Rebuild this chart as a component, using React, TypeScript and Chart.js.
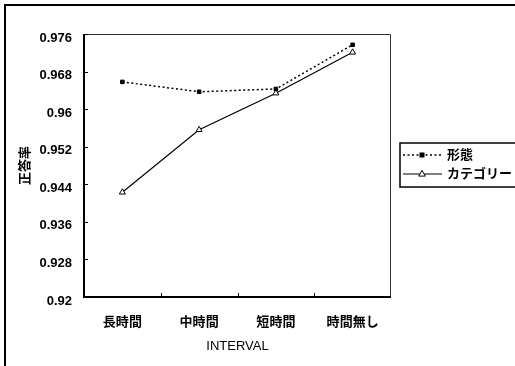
import React, { useEffect, useRef } from "react";
import { Chart, registerables } from "chart.js";

Chart.register(...registerables);

// Categories (x axis) and the two measured series
const categories = ["長時間", "中時間", "短時間", "時間無し"];
const seriesNames = ["形態", "カテゴリー"];
const formValues = [0.9658, 0.9637, 0.9643, 0.9737];
const categoryValues = [0.9423, 0.9556, 0.9634, 0.9721];

// Y axis tick values
const yTicks = [0.92, 0.928, 0.936, 0.944, 0.952, 0.96, 0.968, 0.976];

const xTitle = "INTERVAL";
const yTitle = "正答率";

const FONT = '"Liberation Sans", "Noto Sans CJK JP", sans-serif';

// Outer frame, plot box, inner tick marks and the boxed legend
const framePlugin = {
  id: "frameAndLegend",
  beforeDraw(chart: any) {
    const ctx = chart.ctx;
    ctx.save();
    ctx.fillStyle = "#fff";
    ctx.fillRect(0, 0, chart.width, chart.height);
    ctx.strokeStyle = "#000";
    ctx.lineWidth = 2;
    ctx.beginPath();
    ctx.moveTo(5, chart.height);
    ctx.lineTo(5, 5);
    ctx.lineTo(chart.width, 5);
    ctx.stroke();
    ctx.restore();
  },
  afterDraw(chart: any) {
    const ctx = chart.ctx;
    const { left, right, top, bottom } = chart.chartArea;
    const xs = chart.scales.x;
    const ys = chart.scales.y;
    ctx.save();
    // plot box
    ctx.strokeStyle = "#333";
    ctx.lineWidth = 1;
    ctx.beginPath();
    ctx.moveTo(left, top + 0.5);
    ctx.lineTo(right - 0.5, top + 0.5);
    ctx.lineTo(right - 0.5, bottom);
    ctx.stroke();
    ctx.strokeStyle = "#000";
    ctx.lineWidth = 2;
    ctx.beginPath();
    ctx.moveTo(left, top);
    ctx.lineTo(left, bottom);
    ctx.lineTo(right, bottom);
    ctx.stroke();
    // inner tick marks
    ctx.lineWidth = 1;
    ys.ticks.forEach((t: any) => {
      const y = Math.round(ys.getPixelForValue(t.value)) + 0.5;
      ctx.beginPath();
      ctx.moveTo(left, y);
      ctx.lineTo(left + 4, y);
      ctx.stroke();
    });
    for (let i = 1; i < categories.length; i++) {
      const x =
        Math.round((xs.getPixelForValue(i - 1) + xs.getPixelForValue(i)) / 2) + 0.5;
      ctx.beginPath();
      ctx.moveTo(x, bottom);
      ctx.lineTo(x, bottom - 4);
      ctx.stroke();
    }

    // legend
    const bx = 400;
    const by = 143;
    const bh = 44;
    ctx.strokeStyle = "#000";
    ctx.lineWidth = 1.5;
    ctx.strokeRect(bx, by, chart.width - bx + 5, bh);
    const rows = [155, 174];
    chart.data.datasets.forEach((ds: any, i: number) => {
      const y = rows[i];
      ctx.save();
      ctx.strokeStyle = ds.borderColor;
      ctx.lineWidth = ds.borderWidth;
      ctx.setLineDash(ds.borderDash || []);
      ctx.beginPath();
      ctx.moveTo(bx + 3, y);
      ctx.lineTo(bx + 42, y);
      ctx.stroke();
      ctx.restore();
      ctx.save();
      ctx.fillStyle = ds.pointBackgroundColor;
      ctx.strokeStyle = ds.pointBorderColor;
      ctx.lineWidth = 1;
      const cx = bx + 22;
      if (ds.pointStyle === "rect") {
        ctx.fillRect(cx - 2.5, y - 2.5, 5, 5);
      } else {
        const r = ds.pointRadius;
        ctx.beginPath();
        ctx.moveTo(cx, y - r);
        ctx.lineTo(cx + r * 0.95, y + r * 0.6);
        ctx.lineTo(cx - r * 0.95, y + r * 0.6);
        ctx.closePath();
        ctx.fill();
        ctx.stroke();
      }
      ctx.restore();
      ctx.fillStyle = "#000";
      ctx.font = `bold 13px ${FONT}`;
      ctx.textBaseline = "middle";
      ctx.textAlign = "left";
      ctx.fillText(ds.label, bx + 47, y);
    });
    ctx.restore();
  },
};

export default function App() {
  const ref = useRef<HTMLCanvasElement | null>(null);

  useEffect(() => {
    if (!ref.current) return;
    const chart = new Chart(ref.current, {
      type: "line",
      data: {
        labels: categories,
        datasets: [
          {
            label: seriesNames[0],
            data: formValues,
            borderColor: "#000",
            borderWidth: 1.5,
            borderDash: [2, 2.5],
            pointStyle: "rect",
            pointRadius: 2.5,
            pointBackgroundColor: "#000",
            pointBorderColor: "#000",
            pointBorderWidth: 1,
            tension: 0,
          },
          {
            label: seriesNames[1],
            data: categoryValues,
            borderColor: "#000",
            borderWidth: 1.2,
            pointStyle: "triangle",
            pointRadius: 3.5,
            pointBackgroundColor: "#fff",
            pointBorderColor: "#000",
            pointBorderWidth: 1,
            tension: 0,
          },
        ],
      },
      options: {
        responsive: false,
        animation: false,
        devicePixelRatio: 1,
        layout: { padding: { top: 34, right: 124, left: 0, bottom: 0 } },
        plugins: {
          legend: { display: false },
          tooltip: { enabled: false },
        },
        scales: {
          x: {
            type: "category",
            offset: true,
            grid: { display: false, drawTicks: false },
            border: { display: false },
            ticks: {
              color: "#000",
              padding: 18,
              maxRotation: 0,
              font: { family: FONT, size: 13, weight: "bold" },
            },
            title: {
              display: true,
              text: xTitle,
              color: "#000",
              padding: { top: 0, bottom: 12 },
              font: { family: FONT, size: 13 },
            },
            afterFit: (s: any) => {
              s.height = 69;
            },
          },
          y: {
            min: yTicks[0],
            max: yTicks[yTicks.length - 1],
            grid: { display: false, drawTicks: false },
            border: { display: false },
            afterBuildTicks: (s: any) => {
              s.ticks = yTicks.map((v) => ({ value: v }));
            },
            ticks: {
              color: "#000",
              padding: 12,
              labelOffset: 4,
              callback: (v: any) => String(v),
              font: { family: FONT, size: 13, weight: "bold" },
            },
            title: {
              display: true,
              text: yTitle,
              color: "#000",
              padding: { top: 18, bottom: 0 },
              font: { family: FONT, size: 13, weight: "bold" },
            },
            afterFit: (s: any) => {
              s.width = 84;
            },
          },
        },
      },
      plugins: [framePlugin],
    });
    return () => chart.destroy();
  }, []);

  return (
    <div style={{ position: "fixed", left: 0, top: 0, width: 515, height: 366 }}>
      <canvas ref={ref} width={515} height={366} style={{ display: "block" }} />
    </div>
  );
}
